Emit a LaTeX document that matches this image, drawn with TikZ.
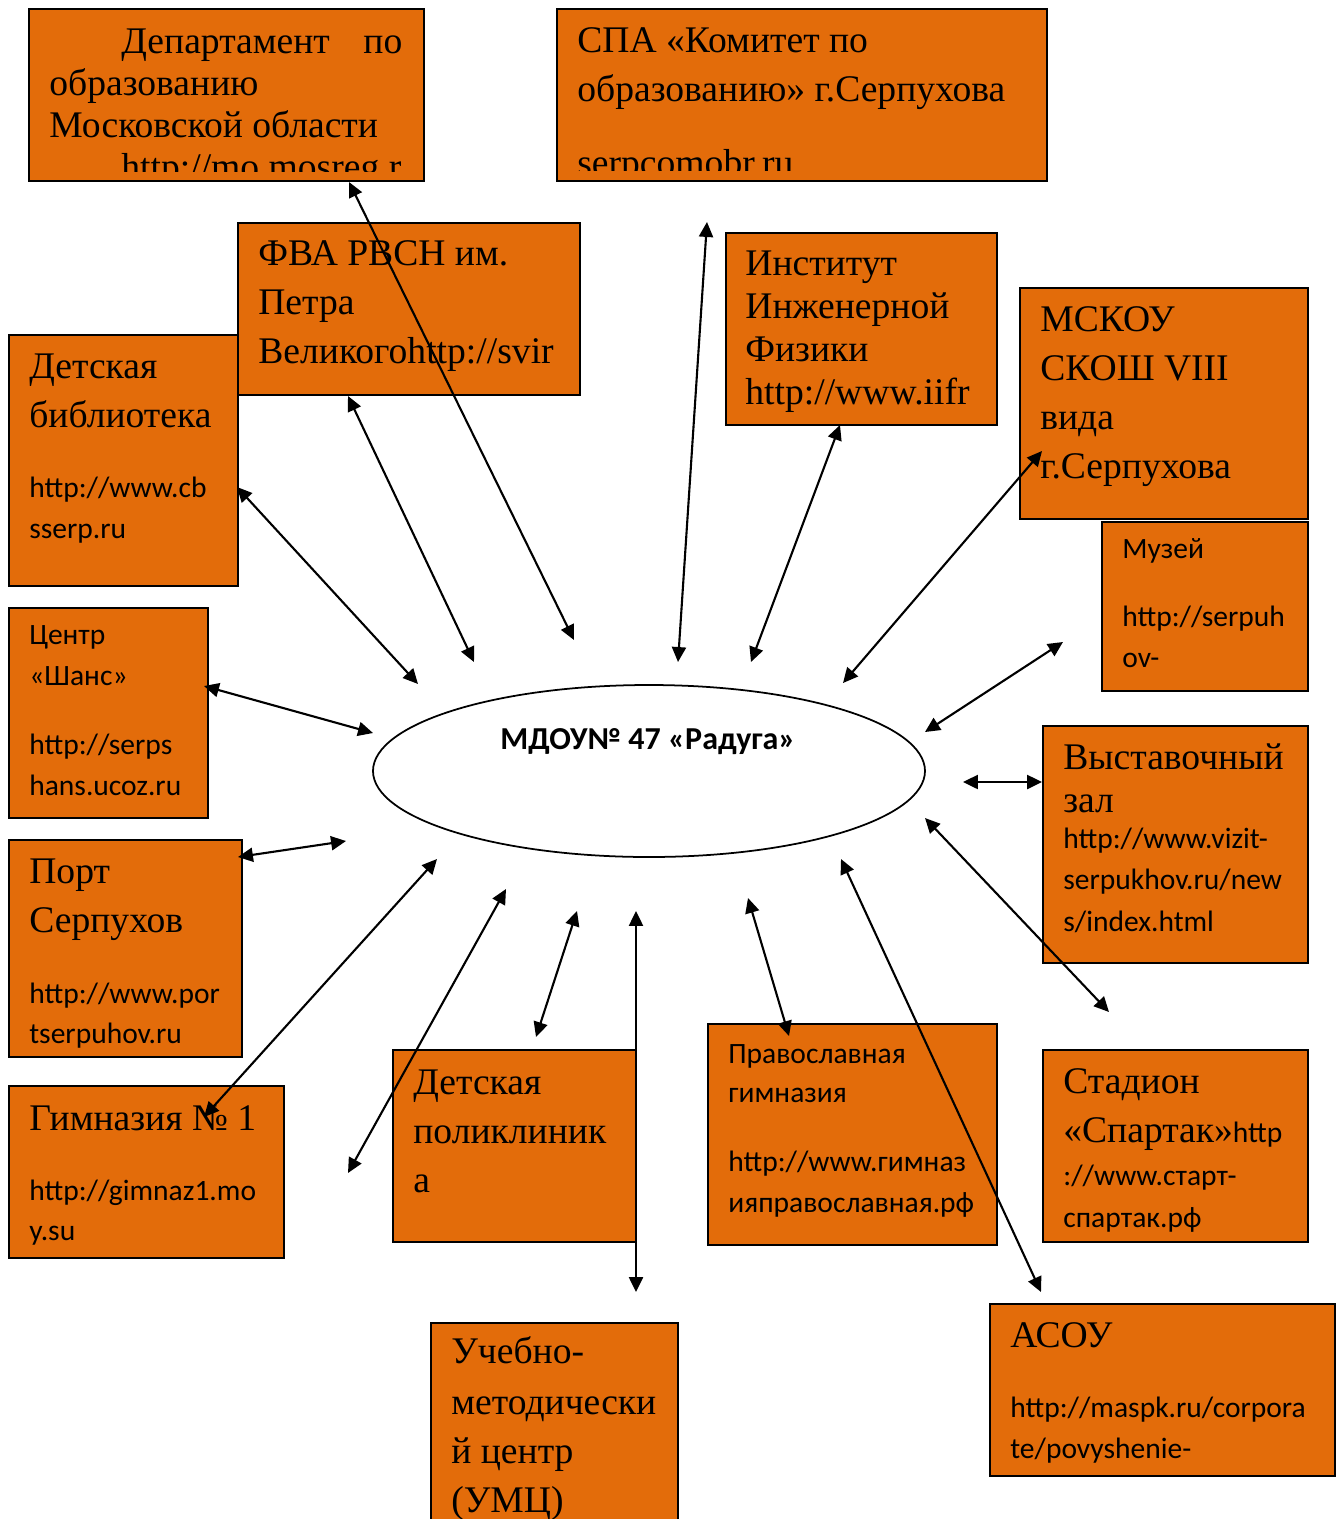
\documentclass[tikz,border=0pt]{standalone}
\usepackage{fontspec}
\setmainfont{Liberation Serif}
\newfontfamily\calibri{Carlito}
\usetikzlibrary{arrows.meta,shapes.geometric}

\definecolor{boxorange}{HTML}{E36C0A}
\newlength{\px}
\setlength{\px}{0.02cm}
\newcommand{\bigtxt}{\fontsize{21.4pt}{27.8pt}\selectfont}
\newcommand{\urltxt}{\calibri\fontsize{16.8pt}{23.2pt}\selectfont}

\tikzset{
  box/.style={draw, line width=1.1pt, fill=boxorange, anchor=north west, inner sep=0pt},
  txt/.style={anchor=base west, align=left, inner sep=0pt, font=\bigtxt},
  urls/.style={txt, font=\urltxt},
  link/.style={{Triangle[length=8.5pt,width=8pt]}-{Triangle[length=8.5pt,width=8pt]}, line width=1.2pt}
}

\begin{document}
\begin{tikzpicture}[x=0.02cm, y=-0.02cm]
	\useasboundingbox (0,0) rectangle (1341,1519);

	% orange boxes
	\foreach \n/\x/\y/\w/\h in {dep/28/8/395/172, spa/556/8/490/172, fva/237/222/342/172,
		iif/725/232/271/192, msk/1019/287/288/231, lib/8/334/229/251, muz/1101/521/206/169,
		shans/8/607/199/210, vyst/1042/725/265/237, port/8/839/233/217, gim/8/1085/275/172,
		polik/392/1049/243/192, pravg/707/1023/289/221, stad/1042/1049/265/192,
		umc/430/1322/247/230, asou/989/1303/345/172}
	\node[box, minimum width=\w\px, minimum height=\h\px] (\n) at (\x,\y) {};

	% texts, placed by the baseline of their last line
	\begin{scope}
		\clip (dep.north west) rectangle ([shift={(0,-10)}]dep.south east);
		\node[txt] (dep-t) at ([shift={(21,171)}]dep.north west)
			{\hbox to 353\px{\hspace*{72\px}Департамент\hfill по}\\[-7\px]
			 образованию\\[-7\px] Московской области\\[-7\px] \hspace*{72\px}http://mo.mosreg.r};
	\end{scope}
	\begin{scope}
		\clip (spa.north west) rectangle ([shift={(0,-11)}]spa.south east);
		\node[txt] (spa-t) at ([shift={(21,167)}]spa.north west)
			{СПА «Комитет по\\ образованию» г.Серпухова\\[25\px] serpcomobr.ru};
	\end{scope}
	\node[txt] (fva-t) at ([shift={(21,141)}]fva.north west) {ФВА РВСН им.\\ Петра\\ Великогоhttp://svir};
	\node[txt] (iif-t) at ([shift={(20,172)}]iif.north west)
		{Институт\\[-6\px] Инженерной\\[-6\px] Физики\\[-6\px] http://www.iifr};
	\node[txt] (msk-t) at ([shift={(21,191)}]msk.north west) {МСКОУ\\ СКОШ VIII\\ вида\\ г.Серпухова};
	\node[txt] (lib-t) at ([shift={(21,204)}]lib.north west)
		{Детская\\ библиотека\\[21\px] {\urltxt http://www.cb}\\[-8\px] {\urltxt sserp.ru}};
	\node[urls] (muz-t) at ([shift={(21,146)}]muz.north west) {Музей\\[27\px] http://serpuh\\ ov-};
	\node[urls] (shans-t) at ([shift={(21,188)}]shans.north west)
		{Центр\\ «Шанс»\\[28\px] http://serps\\ hans.ucoz.ru};
	\node[txt] (vyst-t) at ([shift={(21,206)}]vyst.north west)
		{Выставочный\\[-6\px] зал\\[-13\px] {\urltxt http://www.vizit-}\\[-8\px]
		 {\urltxt serpukhov.ru/new}\\[-7\px] {\urltxt s/index.html}};
	\node[txt] (port-t) at ([shift={(21,204)}]port.north west)
		{Порт\\ Серпухов\\[22\px] {\urltxt http://www.por}\\[-9\px] {\urltxt tserpuhov.ru}};
	\node[txt] (gim-t) at ([shift={(21,155)}]gim.north west)
		{Гимназия № 1\\[21\px] {\urltxt http://gimnaz1.mo}\\[-9\px] {\urltxt y.su}};
	\node[txt] (polik-t) at ([shift={(21,143)}]polik.north west) {Детская\\ поликлиник\\ а};
	\node[urls] (pravg-t) at ([shift={(21,189)}]pravg.north west)
		{Православная\\[-2\px] гимназия\\[28\px] http://www.гимназ\\ ияправославная.рф};
	\node[txt] (stad-t) at ([shift={(21,178)}]stad.north west)
		{Стадион\\ «Спартак»{\urltxt http}\\[-6\px] {\urltxt ://www.старт-}\\[-7\px] {\urltxt спартак.рф}};
	\node[txt] (umc-t) at ([shift={(21,190)}]umc.north west) {Учебно-\\[2\px] методически\\ й центр\\ (УМЦ)};
	\node[txt] (asou-t) at ([shift={(21,155)}]asou.north west)
		{АСОУ\\[21\px] {\urltxt http://maspk.ru/corpora}\\[-8\px] {\urltxt te/povyshenie-}};

	% the kindergarten in the middle
	\node[draw, ellipse, line width=1pt, inner sep=0pt, minimum width=552\px, minimum height=172\px]
		(mdou) at (649,771) {};
	\node[anchor=base, font=\calibri\bfseries\fontsize{18.2pt}{22pt}\selectfont] (mdou-t)
		at ([shift={(-1,-22)}]mdou.center) {МДОУ№ 47 «Радуга»};

	% link ends: a at the partner, b at the centre
	\foreach \n/\ax/\ay/\bx/\by in {dep/349/182/574/640, spa/707/222/678/662, fva/348/396/474/662,
		lib/237/487/418/684, iif/840/425/751/662, msk/1042/451/843/683, muz/1063/642/925/732,
		shans/204/686/373/733, vyst/1042/782/963/782, port/238/857/346/841, gim/204/1117/437/859,
		free/348/1173/506/889, polik/536/1037/577/911, umc/636/1292/636/911, pravg/789/1036/748/898,
		asou/1041/1292/841/859, stad/1109/1012/925/818}
	{
		\coordinate (\n-a) at (\ax,\ay);
		\coordinate (\n-b) at (\bx,\by);
	}
	\foreach \n in {dep,spa,fva,lib,iif,msk,muz,shans,vyst,port,gim,free,polik,umc,pravg,asou,stad}
	\draw[link] (\n-a) -- (\n-b);
\end{tikzpicture}
\end{document}
